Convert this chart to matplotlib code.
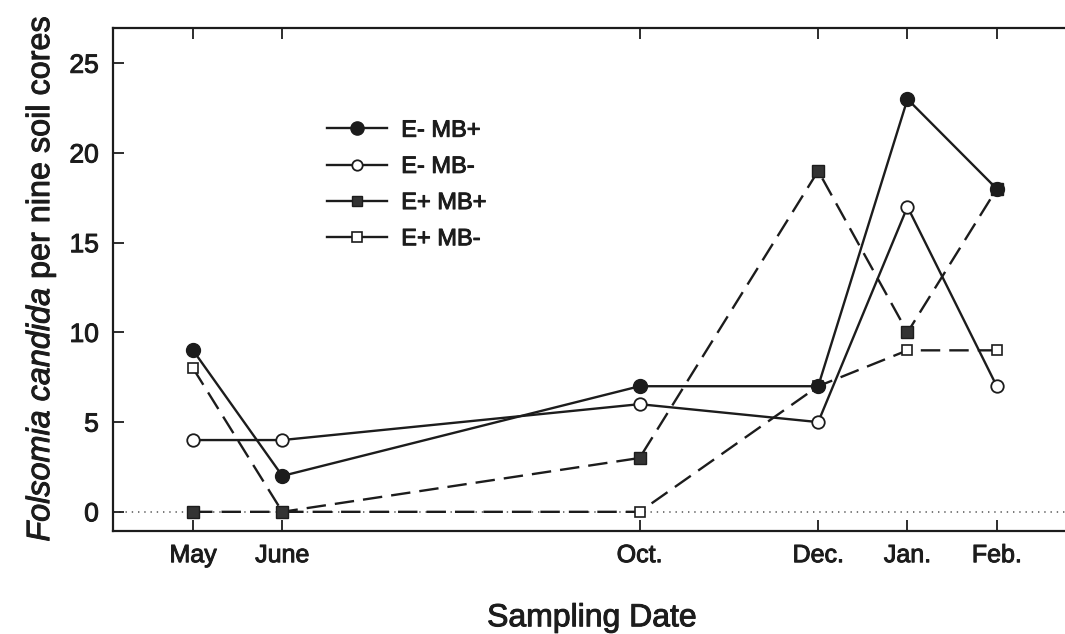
import matplotlib
matplotlib.use("Agg")
import matplotlib.pyplot as plt
import matplotlib.patheffects as pe
from matplotlib.lines import Line2D

plt.rcParams["font.family"] = ["Liberation Sans", "DejaVu Sans"]
plt.rcParams["mathtext.fontset"] = "custom"
plt.rcParams["mathtext.rm"] = "Liberation Sans"
plt.rcParams["mathtext.it"] = "Liberation Sans:italic"
plt.rcParams["lines.scale_dashes"] = False

# Sampling dates as month numbers (Jan/Feb of the following year -> 13/14)
sampling_month = [5, 6, 10, 12, 13, 14]
month_labels = ["May", "June", "Oct.", "Dec.", "Jan.", "Feb."]

# Folsomia candida counts per nine soil cores
e_minus_mb_plus = [9, 2, 7, 7, 23, 18]
e_minus_mb_minus = [4, 4, 6, 5, 17, 7]
e_plus_mb_plus = [0, 0, 3, 19, 10, 18]
e_plus_mb_minus = [8, 0, 0, 7, 9, 9]

ink = "#1c1c1c"
dash = (0, (14, 6.5))
heavy = [pe.withStroke(linewidth=0.7, foreground=ink)]

fig = plt.figure(figsize=(10.65, 6.34), dpi=100)
ax = fig.add_axes([0.1058, 0.163, 0.914, 0.7924])

ax.axhline(0, color="#555555", lw=1.1, ls=(0, (1, 3.5)), zorder=1)

ax.plot(sampling_month, e_plus_mb_minus, color=ink, lw=1.7, ls=dash,
        marker="s", ms=7, mfc="white", mec=ink, mew=1.2, zorder=3)
ax.plot(sampling_month, e_plus_mb_plus, color=ink, lw=1.7, ls=dash,
        marker="s", ms=8.5, mfc="#333333", mec=ink, mew=1.0, zorder=3)
ax.plot(sampling_month, e_minus_mb_minus, color=ink, lw=1.7, ls="-",
        marker="o", ms=9, mfc="white", mec=ink, mew=1.3, zorder=4)
ax.plot(sampling_month, e_minus_mb_plus, color=ink, lw=1.7, ls="-",
        marker="o", ms=10, mfc=ink, mec=ink, zorder=5)

ax.set_xlim(4.1, 15.0)
ax.set_ylim(-1.05, 26.95)
ax.set_xticks(sampling_month)
ax.set_xticklabels(month_labels)
ax.set_yticks([0, 5, 10, 15, 20, 25])

ax.tick_params(axis="both", direction="in", colors=ink, labelcolor=ink,
               width=1.3)
ax.tick_params(axis="x", length=8, pad=9, labelsize=18, top=True)
ax.tick_params(axis="y", length=8, pad=10, labelsize=19)
for lab in ax.get_xticklabels() + ax.get_yticklabels():
    lab.set_path_effects(heavy)

for side in ("left", "bottom", "top"):
    ax.spines[side].set_linewidth(1.6)
    ax.spines[side].set_color(ink)
ax.spines["right"].set_visible(False)

ax.set_xlabel("Sampling Date", fontsize=23, color=ink, labelpad=26,
              path_effects=heavy)
ax.xaxis.label.set_x(0.4926)
ax.set_ylabel(r"$\it{Folsomia\ candida}$ per nine soil cores",
              fontsize=23.3, color=ink, labelpad=8, path_effects=heavy)
ax.yaxis.label.set_y(0.502)

handles = [
    Line2D([], [], color=ink, lw=1.7, marker="o", ms=9.5, mfc=ink, mec=ink),
    Line2D([], [], color=ink, lw=1.7, marker="o", ms=7.5, mfc="white", mec=ink, mew=1.3),
    Line2D([], [], color=ink, lw=1.7, marker="s", ms=7.5, mfc="#333333", mec=ink),
    Line2D([], [], color=ink, lw=1.7, marker="s", ms=6.5, mfc="white", mec=ink, mew=1.2),
]
labels = ["E- MB+", "E- MB-", "E+ MB+", "E+ MB-"]
leg = ax.legend(handles, labels, loc="upper left", bbox_to_anchor=(0.22, 0.818),
                frameon=False, fontsize=17, handlelength=2.55, handletextpad=0.6,
                labelspacing=0.6, borderpad=0, borderaxespad=0,
                labelcolor=ink)
for t in leg.get_texts():
    t.set_path_effects(heavy)

fig.savefig("out.png", dpi=100, facecolor="white")
